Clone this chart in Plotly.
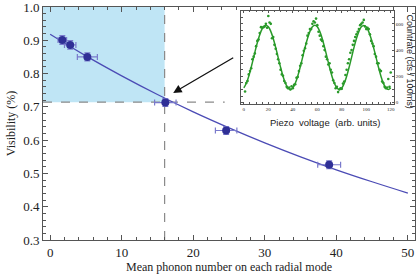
import plotly.graph_objects as go

# ---- main data ----
phonon_n = [1.7, 2.8, 5.2, 16.1, 24.6, 39.0]
visibility = [0.901, 0.886, 0.850, 0.713, 0.629, 0.526]
phonon_err = [0.6, 0.8, 1.4, 1.5, 1.5, 1.6]
vis_err = [0.013, 0.013, 0.012, 0.012, 0.012, 0.012]

fit_n = [0, 5, 10, 15, 20, 25, 30, 35, 40, 45, 50]
fit_vis = [0.918, 0.853, 0.793, 0.737, 0.685, 0.637, 0.592, 0.550, 0.511, 0.475, 0.441]

threshold_n = 16.0
threshold_vis = 0.714
dash_h_end = 24.4

# ---- inset data ----
piezo_fit_x = list(range(0, 121, 2))
piezo_fit_y = [112, 147, 201, 269, 345, 421, 489, 543, 578, 590, 578, 543, 489, 421, 345, 269, 201, 147, 112, 100,
               112, 147, 201, 269, 345, 421, 489, 543, 578, 590, 578, 543, 489, 421, 345, 269, 201, 147, 112, 100,
               112, 147, 201, 269, 345, 421, 489, 543, 578, 588, 576, 541, 487, 419, 345, 269, 201, 147, 112, 100, 112]

piezo_x = list(range(1, 121))
countrate = [85, 150, 165, 215, 240, 262, 330, 350, 375, 430, 470, 480, 530, 575, 570, 575, 580, 600, 570, 660,
             610, 600, 490, 500, 440, 410, 370, 330, 300, 250, 215, 205, 165, 150, 120, 110, 115, 100, 125, 110,
             135, 140, 190, 195, 240, 280, 300, 360, 395, 415, 450, 510, 530, 560, 560, 600, 620, 610, 640, 590,
             540, 510, 480, 470, 430, 400, 350, 330, 290, 300, 250, 230, 170, 150, 110, 120, 80, 100, 110, 105,
             145, 160, 210, 250, 300, 330, 380, 400, 440, 470, 500, 520, 540, 560, 590, 600, 610, 630, 580, 560,
             570, 560, 520, 470, 450, 430, 370, 350, 300, 300, 250, 240, 160, 150, 120, 110, 115, 180, 120, 230]

serif = "Liberation Serif"
sans = "Liberation Sans"

fig = go.Figure()

fig.add_trace(go.Scatter(x=fit_n, y=fit_vis, mode="lines", line=dict(color="#4b4bb5", width=1.3, shape="spline"),
                         showlegend=False, hoverinfo="skip"))
fig.add_trace(go.Scatter(
    x=phonon_n, y=visibility, mode="markers",
    marker=dict(color="#2f2f96", size=8),
    error_x=dict(type="data", array=phonon_err, color="#7a7acc", thickness=1.2, width=3),
    error_y=dict(type="data", array=vis_err, color="#7a7acc", thickness=1.2, width=3),
    showlegend=False))

fig.add_trace(go.Scatter(x=piezo_fit_x, y=piezo_fit_y, mode="lines", xaxis="x2", yaxis="y2",
                         line=dict(color="#2a9a2a", width=1.5, shape="spline"), showlegend=False))
fig.add_trace(go.Scatter(x=piezo_x, y=countrate, mode="markers", xaxis="x2", yaxis="y2",
                         marker=dict(color="#2a9a2a", size=2.6), showlegend=False))

fig.add_shape(type="rect", x0=-1, x1=threshold_n, y0=threshold_vis, y1=1.0, xref="x", yref="y",
              fillcolor="#bfe5f5", line=dict(width=0), layer="below")
fig.add_shape(type="line", x0=threshold_n, x1=threshold_n, y0=0.3, y1=1.0, xref="x", yref="y",
              line=dict(color="#8a8a8a", width=1.2, dash="dash"), layer="below")
fig.add_shape(type="line", x0=-1, x1=dash_h_end, y0=threshold_vis, y1=threshold_vis, xref="x", yref="y",
              line=dict(color="#8a8a8a", width=1.2, dash="dash"), layer="below")

fig.add_annotation(x=17.2, y=0.742, ax=25.8, ay=0.850, xref="x", yref="y", axref="x", ayref="y",
                   text="", showarrow=True, arrowhead=2, arrowsize=1.3, arrowwidth=1.3, arrowcolor="#111")

fig.add_annotation(text="Piezo  voltage  (arb. units)", x=0.759, y=0.503, xref="paper", yref="paper",
                   xanchor="center", yanchor="middle",
                   showarrow=False, font=dict(family=sans, size=9.5, color="#222"))
fig.add_annotation(text="Countrate (cts / 100ms)", x=0.987, y=0.765, xref="paper", yref="paper",
                   xanchor="center", yanchor="middle",
                   showarrow=False, textangle=90, font=dict(family=sans, size=9, color="#222"))

axis_common = dict(showline=True, linecolor="#555", linewidth=1, mirror="ticks", ticks="inside",
                   tickcolor="#555", showgrid=False, zeroline=False, automargin=False,
                   ticklabeloverflow="allow")

fig.update_layout(
    width=417, height=280, autosize=False,
    margin=dict(l=43, r=1.5, t=7, b=40, autoexpand=False),
    plot_bgcolor="white", paper_bgcolor="white",
    font=dict(family=serif, size=13, color="#222"),
    xaxis=dict(range=[-1, 51.0], tickvals=[0, 10, 20, 30, 40, 50], ticklen=5,
               minor=dict(dtick=2, ticks="inside", ticklen=3, tickcolor="#555"),
               title=dict(text="Mean phonon number on each radial mode", font=dict(size=12), standoff=2),
               **axis_common),
    yaxis=dict(range=[0.3, 1.0], tickvals=[0.3, 0.4, 0.5, 0.6, 0.7, 0.8, 0.9, 1.0],
               ticktext=["0.3", "0.4", "0.5", "0.6", "0.7", "0.8", "0.9", "1.0"],
               ticklen=5, minor=dict(dtick=0.02, ticks="inside", ticklen=3, tickcolor="#555"),
               title=dict(text="Visibility (%)", font=dict(size=12), standoff=4),
               **axis_common),
    xaxis2=dict(domain=[0.533, 0.943], anchor="y2", range=[-2.1, 122.5], tickvals=[0, 20, 40, 60, 80, 100, 120],
                ticklen=2, tickfont=dict(size=5), minor=dict(dtick=5, ticks="inside", ticklen=1.5, tickcolor="#555"),
                **axis_common),
    yaxis2=dict(domain=[0.584, 0.984], anchor="x2", side="right", range=[-10, 700], tickvals=[0, 200, 400, 600],
                ticklen=2, tickfont=dict(size=5), minor=dict(dtick=50, ticks="inside", ticklen=1.5, tickcolor="#555"),
                **axis_common),
)

fig.write_html("out.html", config={"displayModeBar": False},
               post_script="document.body.style.margin='0';document.body.style.padding='0';")
